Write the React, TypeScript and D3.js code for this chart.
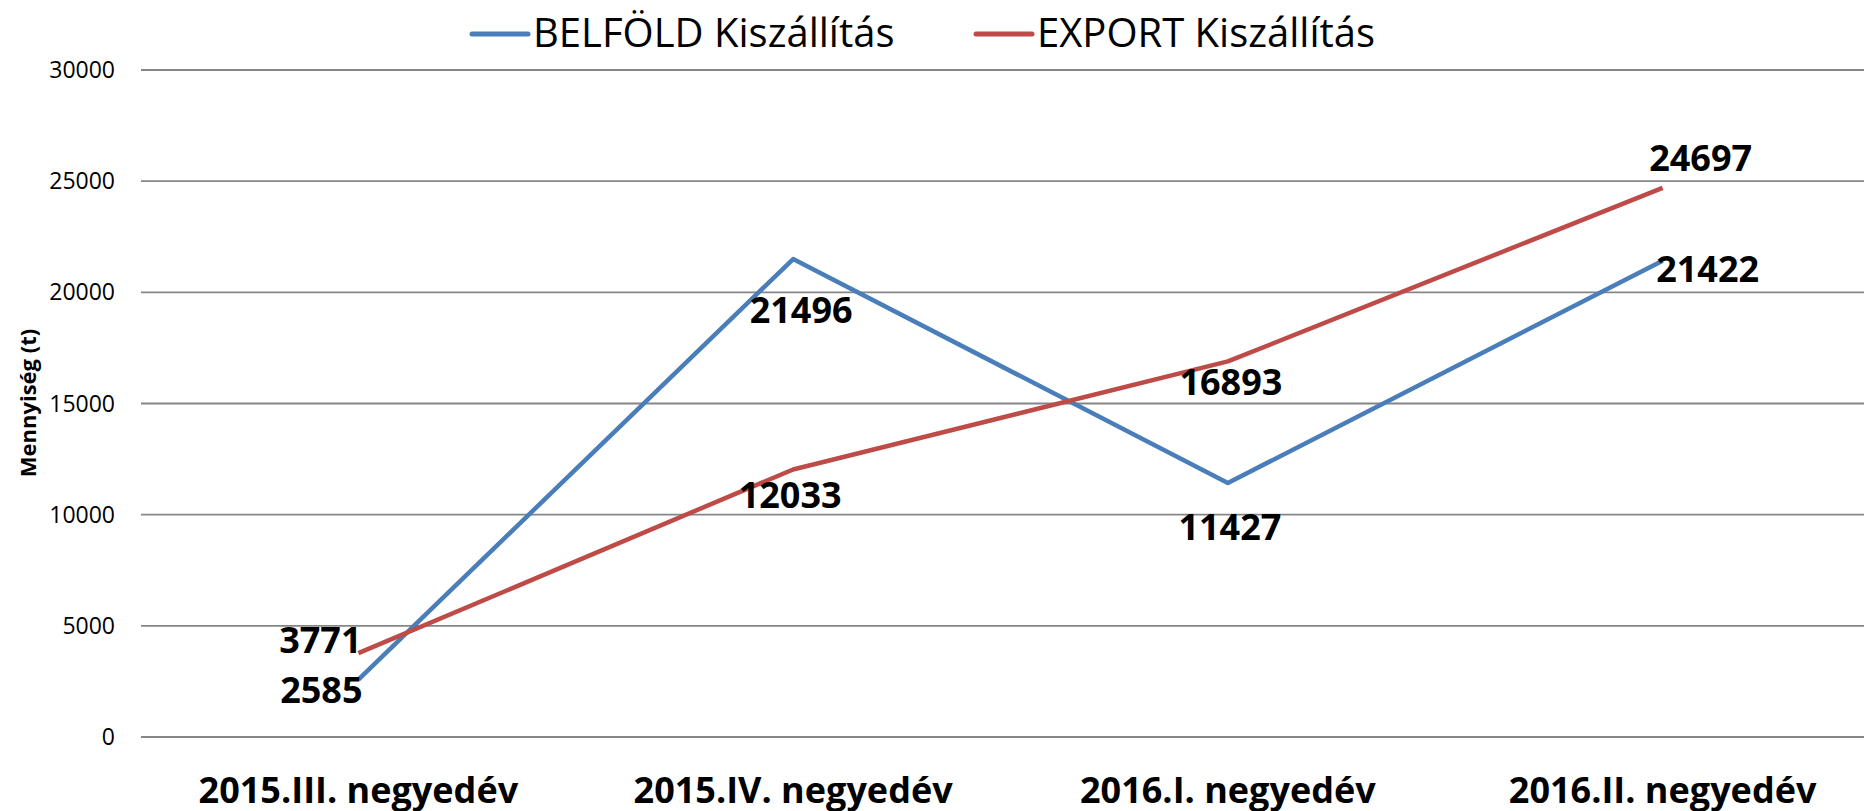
import React, { useEffect, useRef } from 'react';
import * as d3 from 'd3';

const categories = ['2015.III. negyedév', '2015.IV. negyedév', '2016.I. negyedév', '2016.II. negyedév'];
const belfold = [2585, 21496, 11427, 21422];
const exportVals = [3771, 12033, 16893, 24697];
const yTicks = [0, 5000, 10000, 15000, 20000, 25000, 30000];
const seriesNames = ['BELFÖLD Kiszállítás', 'EXPORT Kiszállítás'];
const seriesColors = ['#4A7EBB', '#BE4B48'];

// label placement relative to the point (like Excel's manually placed labels)
const belfoldLabelOffsets = [[-37, 23], [8, 64], [2, 57], [45, 21]];
const exportLabelOffsets = [[-38, 0], [-3, 39], [3, 34], [38, -17]];

const LineChart = () => {
    const svgRef = useRef(null);

    useEffect(() => {
        const svg = d3.select(svgRef.current);
        const width = 1864;
        const height = 811;
        const marginLeft = 141;
        const marginTop = 70;
        const marginBottom = 74;

        svg.attr('width', width)
            .attr('height', height)
            .selectAll('*').remove();

        const x = d3.scalePoint()
            .domain(categories)
            .range([marginLeft, 1880])
            .padding(0.5);

        const y = d3.scaleLinear()
            .domain([0, 30000])
            .range([height - marginBottom, marginTop]);

        // gridlines
        svg.append('g')
            .selectAll('line')
            .data(yTicks)
            .enter()
            .append('line')
            .attr('x1', marginLeft)
            .attr('x2', width)
            .attr('y1', d => y(d))
            .attr('y2', d => y(d))
            .attr('stroke', '#868686')
            .attr('stroke-width', 1.8);

        // y tick labels
        svg.append('g')
            .selectAll('text')
            .data(yTicks)
            .enter()
            .append('text')
            .attr('x', 115)
            .attr('y', d => y(d))
            .attr('dy', '0.35em')
            .attr('text-anchor', 'end')
            .attr('font-family', 'Open Sans')
            .attr('font-size', 23)
            .attr('fill', '#000')
            .text(d => d);

        // y axis title
        svg.append('text')
            .attr('transform', 'translate(36, 403) rotate(-90)')
            .attr('text-anchor', 'middle')
            .attr('font-family', 'Open Sans')
            .attr('font-weight', 'bold')
            .attr('font-size', 22)
            .text('Mennyiség (t)');

        // category labels
        svg.append('g')
            .selectAll('text')
            .data(categories)
            .enter()
            .append('text')
            .attr('x', d => x(d))
            .attr('y', 803)
            .attr('text-anchor', 'middle')
            .attr('font-family', 'Open Sans')
            .attr('font-weight', 'bold')
            .attr('font-size', 36)
            .text(d => d);

        const line = d3.line()
            .x((d, i) => x(categories[i]))
            .y(d => y(d));

        const series = [
            { values: belfold, offsets: belfoldLabelOffsets, color: seriesColors[0] },
            { values: exportVals, offsets: exportLabelOffsets, color: seriesColors[1] },
        ];

        series.forEach(s => {
            svg.append('path')
                .datum(s.values)
                .attr('fill', 'none')
                .attr('stroke', s.color)
                .attr('stroke-width', 4.5)
                .attr('stroke-linejoin', 'round')
                .attr('d', line);
        });

        series.forEach(s => {
            svg.append('g')
                .selectAll('text')
                .data(s.values)
                .enter()
                .append('text')
                .attr('x', (d, i) => x(categories[i]) + s.offsets[i][0])
                .attr('y', (d, i) => y(d) + s.offsets[i][1])
                .attr('text-anchor', 'middle')
                .attr('font-family', 'Open Sans')
                .attr('font-weight', 'bold')
                .attr('font-size', 36)
                .attr('fill', '#000')
                .text(d => d);
        });

        // legend
        const legendX = [472, 976];
        const legend = svg.append('g')
            .selectAll('g')
            .data(seriesNames)
            .enter()
            .append('g')
            .attr('transform', (d, i) => `translate(${legendX[i]}, 34)`);

        legend.append('line')
            .attr('x1', 0)
            .attr('x2', 56)
            .attr('stroke', (d, i) => seriesColors[i])
            .attr('stroke-width', 5)
            .attr('stroke-linecap', 'round');

        legend.append('text')
            .attr('x', 61)
            .attr('y', 13)
            .attr('font-family', 'Open Sans')
            .attr('font-size', 40)
            .attr('fill', '#000')
            .text(d => d);
    }, []);

    return <svg ref={svgRef} style={{ position: 'absolute', left: 0, top: 0 }}></svg>;
};

export default function App() {
    return <LineChart />;
}
